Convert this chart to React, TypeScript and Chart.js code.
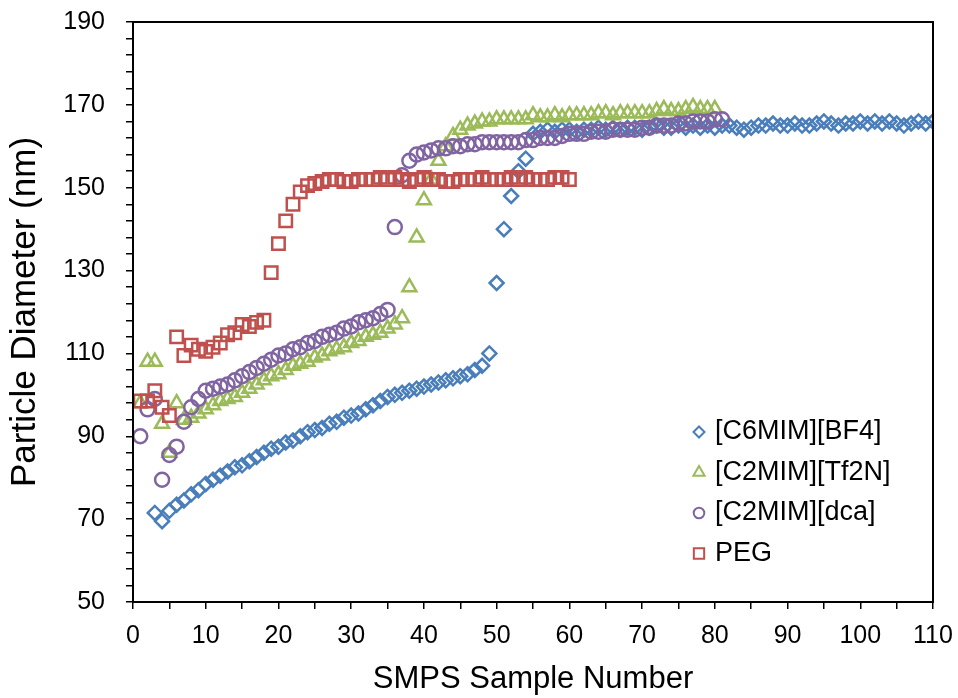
import React, { useEffect, useRef } from 'react';
import { Chart, registerables } from 'chart.js';
import { drawPoint } from 'chart.js/helpers';

Chart.register(...registerables);

const FONT = "'Liberation Sans', Arial, Helvetica, sans-serif";

const seriesLabels = ['[C6MIM][BF4]', '[C2MIM][Tf2N]', '[C2MIM][dca]', 'PEG'];

// first sample number of each series (samples are consecutive integers)
const bf4Start = 3;
const tf2nStart = 1;
const dcaStart = 1;
const pegStart = 1;

const bf4Values = [
  71.5, 69.5, 72, 73.5, 74.5, 76, 77, 78.5, 79.5, 80.5,
  81.5, 82.5, 83, 84, 85, 86, 87, 87.5, 88.5, 89,
  90, 91, 91.5, 92, 93, 93.5, 94.5, 95, 95.5, 96.5,
  97.5, 98.5, 99.5, 100, 100.5, 101, 101.5, 102, 102.5, 103,
  103.5, 104, 104.5, 105, 106, 107, 110, 127, 140, 148,
  154, 157, 163, 163.5, 164, 163.5, 164, 164, 163.5, 164,
  164, 164.5, 164, 164.5, 164, 164.5, 164.5, 164, 164.5, 165,
  164.5, 164.5, 165, 164.5, 165, 164.5, 165, 164.5, 165, 165,
  164.5, 164, 164.5, 165, 165, 165.5, 165, 165, 165.5, 165,
  165, 165.5, 166, 165.5, 165, 165.5, 165.5, 166, 165.5, 166,
  165.5, 166, 165.5, 165, 165.5, 166, 165.5, 166,
];

const tf2nValues = [
  98, 108, 108, 93, 86, 98, 94, 94.5, 95.5, 96.5,
  97.5, 98.5, 99, 99.5, 100.5, 101.5, 102.5, 103.5, 104.5, 105,
  106, 107, 107.5, 108, 109, 109.5, 110.5, 111, 111.5, 112.5,
  113, 114, 114.5, 115, 116, 117, 118.5, 126, 138, 147,
  152, 156.5, 160, 162.5, 164, 165, 165.5, 166, 166, 166.5,
  166.5, 166.5, 166.5, 166.5, 167.5, 167, 167, 167.5, 167, 167.5,
  167.5, 167.5, 167.5, 168, 168, 167.5, 168, 168, 168, 168,
  168, 168.5, 169, 168.5, 168.5, 169, 169.5, 169, 169, 169,
];

const dcaValues = [
  90, 96.5, 99, 79.5, 85.5, 87.5, 93.5, 97, 99, 101,
  101.5, 102, 102.5, 103.5, 104.5, 105.5, 106.5, 107.5, 108.5, 109.5,
  110, 111, 111.5, 112.5, 113, 114, 114.5, 115, 116, 116.5,
  117.5, 118, 118.5, 119.5, 120.5, 140.5, 153, 156.5, 158, 158.5,
  159, 159.5, 159.5, 160, 160, 160.5, 160.5, 161, 161, 161,
  161, 161, 161, 161.5, 161.5, 162, 162, 162, 162.5, 163,
  163, 163, 163.5, 163.5, 163.5, 164, 164, 164, 164, 164.5,
  164.5, 165, 165, 165, 165.5, 165.5, 166, 166, 166, 166.5,
  166.5,
];

const pegValues = [
  98.5, 98.5, 101, 97, 95, 114, 109.5, 112, 111, 110.5,
  111.5, 112.5, 114.5, 115, 117, 116.5, 117.5, 118, 129.5, 136.5,
  142, 146, 149, 150.5, 151, 151.5, 152, 152, 151.5, 151.5,
  152, 152, 152, 152.5, 152, 152.5, 152, 151.5, 152, 152.5,
  152, 152, 151.5, 151.5, 152, 152, 152, 152.5, 152, 152,
  152, 152.5, 152, 152.5, 152, 152, 152, 152.5, 152.5, 152,
];

const xTickMin = 0;
const xTickMax = 110;
const yTickMin = 50;
const yTickMax = 190;

const BLUE = '#4A7EBB';
const GREEN = '#9BBB59';
const PURPLE = '#8064A2';
const RED = '#C0504D';

const toPoints = (start: number, values: number[]) =>
  values.map((y, i) => ({ x: start + i, y }));

const frameAndLegend = {
  id: 'frameAndLegend',
  afterDraw(chart: any) {
    const { ctx, chartArea } = chart;
    ctx.save();
    ctx.strokeStyle = '#000';
    ctx.lineWidth = 2;
    ctx.strokeRect(chartArea.left, chartArea.top, chartArea.right - chartArea.left, chartArea.bottom - chartArea.top);

    // legend inside plot area, lower right
    const rowTop = 432;
    const rowGap = 40.5;
    const markerX = 699;
    const textX = 715;
    ctx.font = `27px ${FONT}`;
    ctx.textBaseline = 'middle';
    ctx.textAlign = 'left';
    chart.data.datasets.forEach((ds: any, i: number) => {
      const y = rowTop + i * rowGap;
      ctx.strokeStyle = ds.borderColor;
      ctx.fillStyle = 'rgba(0,0,0,0)';
      ctx.lineWidth = 2;
      drawPoint(ctx, { pointStyle: ds.pointStyle, radius: ds.legendRadius, borderWidth: 2, rotation: 0 }, markerX, y);
      ctx.fillStyle = '#000';
      ctx.fillText(ds.label, textX, y);
    });
    ctx.restore();
  },
};

export default function App() {
  const ref = useRef<HTMLCanvasElement>(null);

  useEffect(() => {
    if (!ref.current) return;
    const common = {
      backgroundColor: 'rgba(0,0,0,0)',
      pointBorderWidth: 2.5,
      borderWidth: 2.5,
      showLine: false,
    };
    const chart = new Chart(ref.current, {
      type: 'scatter',
      data: {
        datasets: [
          { ...common, label: seriesLabels[0], data: toPoints(bf4Start, bf4Values), pointStyle: 'rectRot', pointRadius: 7, borderColor: BLUE, order: 4, legendRadius: 5.5 } as any,
          { ...common, label: seriesLabels[1], data: toPoints(tf2nStart, tf2nValues), pointStyle: 'triangle', pointRadius: 8, borderColor: GREEN, order: 3, legendRadius: 6.5 } as any,
          { ...common, label: seriesLabels[2], data: toPoints(dcaStart, dcaValues), pointStyle: 'circle', pointRadius: 7, borderColor: PURPLE, order: 2, legendRadius: 5.3 } as any,
          { ...common, label: seriesLabels[3], data: toPoints(pegStart, pegValues), pointStyle: 'rect', pointRadius: 8.8, borderColor: RED, order: 1, legendRadius: 7.3 } as any,
        ],
      },
      options: {
        animation: false,
        responsive: false,
        devicePixelRatio: 1,
        layout: { padding: { top: 22, right: 25, left: 0, bottom: 0 } },
        plugins: {
          legend: { display: false },
          tooltip: { enabled: false },
        },
        scales: {
          x: {
            type: 'linear',
            position: 'bottom',
            min: xTickMin,
            max: xTickMax,
            ticks: {
              stepSize: 5,
              autoSkip: false,
              maxRotation: 0,
              color: '#000',
              padding: 12,
              font: { family: FONT, size: 25 },
              callback: (v: any) => (Number(v) % 10 === 0 ? String(v) : ''),
            },
            grid: { drawOnChartArea: false, drawTicks: true, tickLength: 7, color: '#000', lineWidth: 1.5 },
            border: { color: '#000', width: 2 },
            title: {
              display: true,
              text: 'SMPS Sample Number',
              color: '#000',
              font: { family: FONT, size: 31 },
              padding: { top: 0, bottom: 0 },
            },
            afterFit: (s: any) => {
              s.height = 96;
              s.paddingLeft = 0;
              s.paddingRight = 0;
              s.paddingTop = 0;
              s.paddingBottom = 0;
            },
          },
          y: {
            type: 'linear',
            min: yTickMin,
            max: yTickMax,
            ticks: {
              stepSize: 4,
              autoSkip: false,
              color: '#000',
              padding: 21,
              font: { family: FONT, size: 25 },
              callback: (v: any) => ((Number(v) - yTickMin) % 20 === 0 ? String(v) : ''),
            },
            grid: { drawOnChartArea: false, drawTicks: true, tickLength: 7, color: '#000', lineWidth: 1.5 },
            border: { color: '#000', width: 2 },
            title: {
              display: true,
              text: 'Particle Diameter (nm)',
              color: '#000',
              font: { family: FONT, size: 35 },
              padding: { top: 4, bottom: 0 },
            },
            afterFit: (s: any) => {
              s.width = 133;
              s.paddingLeft = 0;
              s.paddingRight = 0;
              s.paddingTop = 0;
              s.paddingBottom = 0;
            },
          },
        },
      },
      plugins: [frameAndLegend],
    } as any);
    return () => chart.destroy();
  }, []);

  return (
    <div style={{ position: 'fixed', left: 0, top: 0, width: 958, height: 698, background: '#fff' }}>
      <canvas ref={ref} width={958} height={698} style={{ display: 'block' }} />
    </div>
  );
}
